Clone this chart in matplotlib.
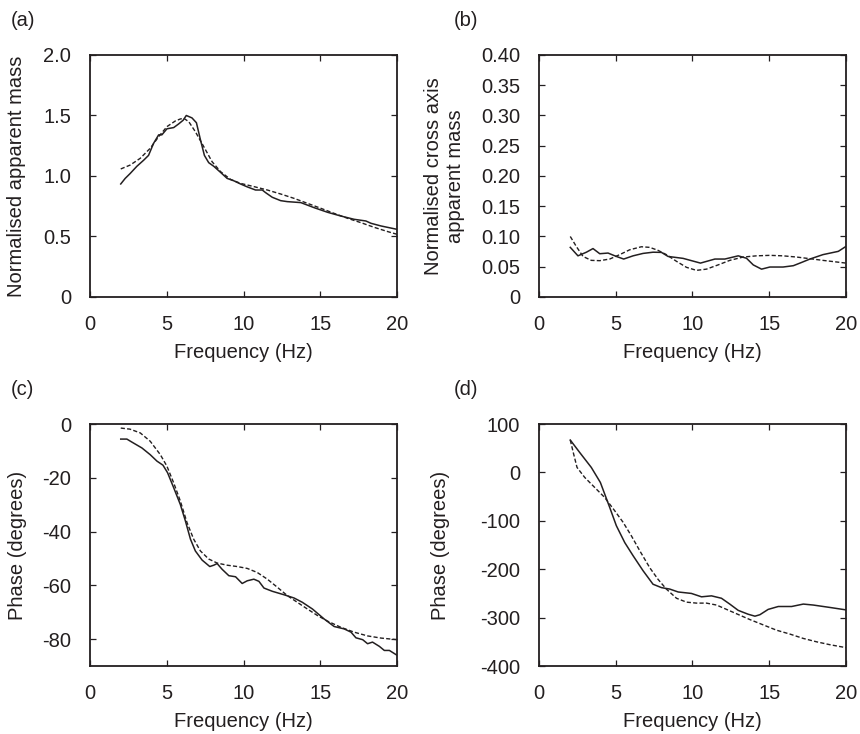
"""Four-panel apparent mass / phase comparison (measured vs model)."""

import matplotlib.pyplot as plt

plt.rcParams["font.family"] = ["Liberation Sans", "DejaVu Sans"]

INK = "#231f20"

# (a) normalised apparent mass
a_meas_f = [2.0, 2.29, 2.61, 3.05, 3.49, 3.81, 4.14, 4.47, 4.68, 5.01, 5.45, 5.77, 6.06,
            6.27, 6.64, 6.93, 7.19, 7.45, 7.73, 8.06, 8.5, 8.93, 9.37, 9.8, 10.24, 10.78,
            11.22, 11.44, 11.87, 12.42, 12.85, 13.73, 14.6, 15.47, 16.34, 17.2, 17.97,
            18.3, 18.95, 20.0]
a_meas = [0.934, 0.98, 1.02, 1.08, 1.13, 1.17, 1.27, 1.34, 1.34, 1.39, 1.40, 1.43, 1.46,
          1.50, 1.48, 1.44, 1.30, 1.17, 1.11, 1.08, 1.03, 0.98, 0.96, 0.934, 0.91, 0.884,
          0.884, 0.862, 0.824, 0.796, 0.788, 0.78, 0.738, 0.70, 0.669, 0.642, 0.628,
          0.609, 0.587, 0.559]
a_model_f = [2.0, 2.61, 3.27, 3.92, 4.47, 5.01, 5.56, 5.88, 6.1, 6.43, 6.86, 7.41, 7.95,
             8.5, 9.15, 9.8, 10.68, 11.55, 12.42, 13.29, 14.16, 15.03, 15.9, 16.78,
             17.65, 18.5, 19.4, 20.0]
a_model = [1.058, 1.09, 1.146, 1.229, 1.325, 1.408, 1.455, 1.471, 1.477, 1.449, 1.366,
           1.242, 1.118, 1.036, 0.972, 0.939, 0.912, 0.884, 0.851, 0.815, 0.774, 0.733,
           0.691, 0.65, 0.614, 0.576, 0.54, 0.518]

# (b) normalised cross axis apparent mass
b_meas_f = [2.04, 2.54, 3.09, 3.52, 3.96, 4.5, 5.04, 5.52, 6.13, 6.78, 7.43, 7.98, 8.41,
            9.39, 10.52, 11.46, 12.11, 12.98, 13.52, 13.96, 14.5, 15.04, 15.9, 16.57,
            17.1, 17.65, 18.5, 19.5, 20.0]
b_meas = [0.082, 0.068, 0.074, 0.080, 0.0715, 0.0726, 0.067, 0.0627, 0.068, 0.072, 0.074,
          0.0737, 0.067, 0.0638, 0.056, 0.0627, 0.0627, 0.068, 0.064, 0.053, 0.046,
          0.0495, 0.0495, 0.0517, 0.057, 0.0627, 0.070, 0.0754, 0.0836]
b_model_f = [2.04, 2.43, 2.87, 3.41, 3.96, 4.61, 5.26, 5.91, 6.67, 7.22, 7.76, 8.3, 8.96,
             9.61, 10.26, 10.91, 11.67, 12.43, 13.3, 14.17, 15.04, 15.9, 16.78, 17.65,
             18.5, 19.4, 20.0]
b_model = [0.100, 0.0836, 0.067, 0.0605, 0.060, 0.0627, 0.070, 0.078, 0.083, 0.082, 0.077,
           0.070, 0.0589, 0.049, 0.044, 0.046, 0.053, 0.0605, 0.066, 0.068, 0.0688, 0.068,
           0.066, 0.0633, 0.0605, 0.0578, 0.056]

# (c) phase, in-line
c_meas_f = [2.0, 2.4, 2.72, 3.38, 3.92, 4.36, 4.75, 5.05, 5.45, 5.88, 6.21, 6.54, 6.86,
            7.3, 7.8, 8.06, 8.28, 8.6, 9.04, 9.48, 9.91, 10.24, 10.67, 11.0, 11.33, 11.87,
            12.64, 13.29, 13.83, 14.49, 15.25, 15.9, 16.56, 17.0, 17.32, 17.76, 18.08,
            18.4, 18.85, 19.17, 19.5, 20.0]
c_meas = [-5.6, -5.6, -6.7, -8.9, -11.4, -13.8, -15.3, -18.1, -23.7, -29.9, -36.0, -42.8,
          -47.2, -50.6, -53.0, -52.5, -51.9, -54.0, -56.4, -56.8, -59.3, -58.3, -57.7,
          -58.5, -61.0, -62.2, -63.5, -64.7, -66.3, -68.8, -72.5, -75.3, -76.2, -77.4,
          -79.5, -80.2, -81.7, -81.1, -82.7, -84.2, -84.2, -86.0]
c_model_f = [2.0, 2.6, 3.27, 3.92, 4.58, 5.01, 5.45, 5.88, 6.32, 6.75, 7.19, 7.73, 8.28,
             8.93, 9.59, 10.24, 10.89, 11.55, 12.2, 12.85, 13.5, 14.16, 14.81, 15.47,
             16.34, 17.2, 18.08, 18.95, 20.0]
c_model = [-1.5, -1.9, -3.3, -6.4, -11.4, -15.7, -21.9, -28.6, -36.7, -42.8, -47.2, -50.2,
           -51.7, -52.5, -53.0, -53.7, -55.2, -57.7, -60.7, -63.8, -66.3, -68.8, -71.2,
           -73.3, -75.6, -77.4, -78.8, -79.6, -80.2]

# (d) phase, cross axis
d_meas_f = [2.04, 2.65, 3.41, 4.0, 4.61, 5.04, 5.59, 6.13, 6.78, 7.43, 7.98, 8.52, 9.07,
            9.93, 10.59, 11.24, 11.89, 12.43, 12.98, 13.63, 14.07, 14.39, 14.93, 15.59,
            16.46, 17.22, 17.87, 18.96, 20.0]
d_meas = [66.9, 41.4, 10.3, -20.7, -72.4, -110, -145, -172, -203, -231, -238, -241, -247,
          -250, -257, -255, -260, -272, -285, -293, -297, -294, -283, -277, -277, -272,
          -274, -279, -284]
d_model_f = [2.04, 2.26, 2.48, 2.98, 3.63, 4.28, 4.93, 5.48, 6.02, 6.57, 7.22, 7.76, 8.3,
             8.96, 9.61, 10.26, 10.91, 11.57, 12.22, 12.87, 13.74, 14.61, 15.48, 16.35,
             17.22, 18.09, 18.96, 20.0]
d_model = [66.9, 37.9, 10.3, -10.3, -31, -51.7, -79, -103, -131, -162, -197, -221, -241,
           -260, -268, -270, -270, -274, -283, -292, -304, -315, -326, -334, -343, -350,
           -356, -362]

panels = [
    ("(a)", a_meas_f, a_meas, a_model_f, a_model, "Normalised apparent mass",
     (0, 2.0), [0, 0.5, 1.0, 1.5, 2.0], ["0", "0.5", "1.0", "1.5", "2.0"], -0.238),
    ("(b)", b_meas_f, b_meas, b_model_f, b_model, "Normalised cross axis\napparent mass",
     (0, 0.4), [0, 0.05, 0.1, 0.15, 0.2, 0.25, 0.3, 0.35, 0.4],
     ["0", "0.05", "0.10", "0.15", "0.20", "0.25", "0.30", "0.35", "0.40"], -0.309),
    ("(c)", c_meas_f, c_meas, c_model_f, c_model, "Phase (degrees)",
     (-90, 0), [-80, -60, -40, -20, 0], ["-80", "-60", "-40", "-20", "0"], -0.235),
    ("(d)", d_meas_f, d_meas, d_model_f, d_model, "Phase (degrees)",
     (-400, 100), [-400, -300, -200, -100, 0, 100],
     ["-400", "-300", "-200", "-100", "0", "100"], -0.322),
]

fig = plt.figure(figsize=(8.6, 7.34), dpi=100)
lefts = [0.1047, 0.6267, 0.1047, 0.6267]
bottoms = [0.5954, 0.5954, 0.0926, 0.0926]
tag_pos = [(0.012, 0.972), (0.528, 0.972), (0.012, 0.469), (0.528, 0.469)]

for i, (tag, fm, ym, fd, yd, ylab, ylim, yt, ytl, lx) in enumerate(panels):
    ax = fig.add_axes([lefts[i], bottoms[i], 0.3570, 0.3297])
    ax.plot(fm, ym, color=INK, linewidth=1.1)
    ax.plot(fd, yd, color=INK, linewidth=1.0, linestyle=(0, (3, 1.6)))
    ax.set_xlim(0, 20)
    ax.set_ylim(*ylim)
    ax.set_xticks([0, 5, 10, 15, 20])
    ax.set_yticks(yt)
    ax.set_yticklabels(ytl)
    ax.tick_params(direction="in", length=4, width=0.9, top=True, right=True,
                   labelsize=14.5, colors=INK)
    ax.tick_params(axis="x", pad=13)
    ax.tick_params(axis="y", pad=13.5)
    for sp in ax.spines.values():
        sp.set_linewidth(1.3)
        sp.set_color(INK)
    ax.set_xlabel("Frequency (Hz)", fontsize=14.5, color=INK, va="center")
    ax.xaxis.set_label_coords(0.5, -0.231)
    ax.set_ylabel(ylab, fontsize=14.5, color=INK, linespacing=1.2, va="center")
    ax.yaxis.set_label_coords(lx, 0.5)
    fig.text(tag_pos[i][0], tag_pos[i][1], tag, fontsize=14.5, color=INK,
             ha="left", va="center")

fig.savefig("out.png", dpi=100)
